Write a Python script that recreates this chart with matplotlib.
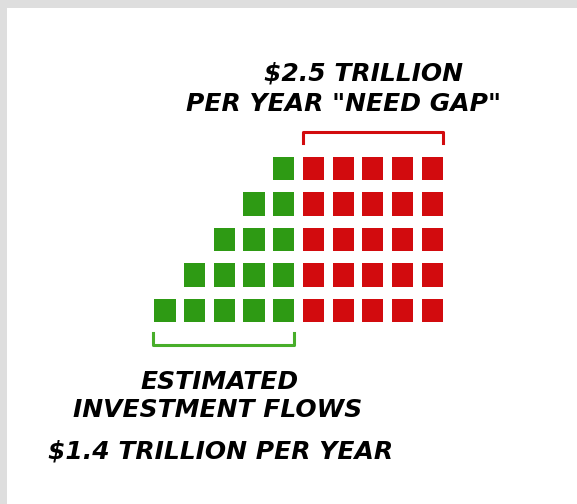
import matplotlib.pyplot as plt
from matplotlib.patches import Rectangle

# stacked squares per column
green_heights = [1, 2, 3, 4, 5]
red_heights = [5, 5, 5, 5, 5]
top_label = ["$2.5 TRILLION", 'PER YEAR "NEED GAP"']
bottom_label = ["ESTIMATED", "INVESTMENT FLOWS", "$1.4 TRILLION PER YEAR"]

GREEN = "#2e9a14"
RED = "#d20b0e"
W, H = 577, 504

fig = plt.figure(figsize=(W / 100, H / 100), dpi=100)
fig.patch.set_facecolor("white")

# light grey frame on the top/left edge
fig.patches.append(Rectangle((0, 0), 7 / W, 1, transform=fig.transFigure,
                             facecolor="#dedede", edgecolor="none"))
fig.patches.append(Rectangle((0, 1 - 8 / H), 1, 8 / H, transform=fig.transFigure,
                             facecolor="#dedede", edgecolor="none"))

ax = fig.add_axes([150.15 / W, 1 - 328.25 / H, 296.75 / W, 177.5 / H])
ax.set_xlim(-0.5, 9.5)
ax.set_ylim(-0.5, 4.5)
ax.axis("off")

cols = [(h, GREEN) for h in green_heights] + [(h, RED) for h in red_heights]
for i, (h, c) in enumerate(cols):
    for level in range(h):
        ax.bar(i, 0.65, width=0.71, bottom=level - 0.325, color=c, edgecolor="none")

# red bracket over the gap columns
n_g = len(green_heights)
n_r = len(red_heights)
x0, x1 = n_g - 0.36, n_g + n_r - 1 + 0.36
ax.plot([x0, x0, x1, x1], [4.72, 5.02, 5.02, 4.72], color=RED, lw=2.2,
        clip_on=False, solid_joinstyle="round")
# green bracket under the flow columns
gx0, gx1 = -0.42, n_g - 1 + 0.36
ax.plot([gx0, gx0, gx1, gx1], [-0.62, -0.98, -0.98, -0.62], color="#48ae2a", lw=2.2,
        clip_on=False, solid_joinstyle="round")

txt = dict(fontsize=18, fontweight="bold", fontstyle="italic", color="black",
           family="DejaVu Sans", ha="center", va="center")
fig.text(364 / W, 1 - 74 / H, top_label[0], **txt)
fig.text(343 / W, 1 - 104 / H, top_label[1], **txt)
fig.text(220 / W, 1 - 382 / H, bottom_label[0], **txt)
fig.text(218 / W, 1 - 410 / H, bottom_label[1], **txt)
fig.text(221 / W, 1 - 452 / H, bottom_label[2], **txt)

fig.savefig("out.png", dpi=100, facecolor="white")
